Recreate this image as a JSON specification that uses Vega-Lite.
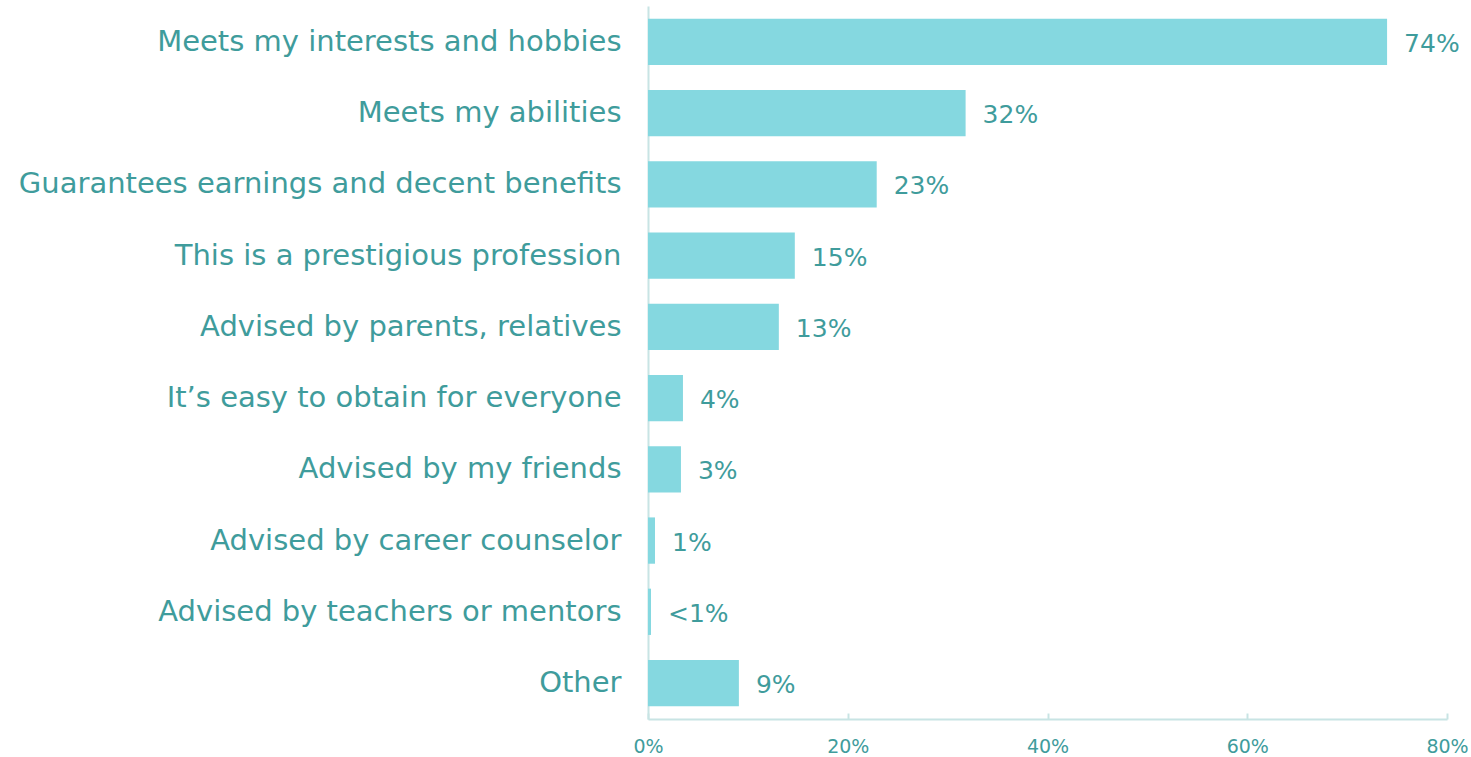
{
  "$schema": "https://vega.github.io/schema/vega-lite/v6.json",
  "autosize": {"type": "none"},
  "padding": {"left": 648, "top": 6, "right": 24, "bottom": 38},
  "width": 799,
  "height": 713,
  "background": "white",
  "config": {"view": {"stroke": null}, "font": "DejaVu Sans"},
  "data": {
    "values": [
      {"reason": "Meets my interests and hobbies", "value": 74, "label": "74%"},
      {"reason": "Meets my abilities", "value": 31.8, "label": "32%"},
      {"reason": "Guarantees earnings and decent benefits", "value": 22.9, "label": "23%"},
      {"reason": "This is a prestigious profession", "value": 14.7, "label": "15%"},
      {"reason": "Advised by parents, relatives", "value": 13.1, "label": "13%"},
      {"reason": "It’s easy to obtain for everyone", "value": 3.5, "label": "4%"},
      {"reason": "Advised by my friends", "value": 3.3, "label": "3%"},
      {"reason": "Advised by career counselor", "value": 0.7, "label": "1%"},
      {"reason": "Advised by teachers or mentors", "value": 0.3, "label": "<1%"},
      {"reason": "Other", "value": 9.1, "label": "9%"}
    ]
  },
  "encoding": {
    "y": {
      "field": "reason", "type": "nominal", "sort": null,
      "scale": {"paddingInner": 0.35, "paddingOuter": 0.18},
      "axis": {
        "title": null, "ticks": false, "domainColor": "#C8E4E4", "domainWidth": 2,
        "labelColor": "#3F9C9C", "labelFontSize": 29, "labelFontWeight": "normal", "labelPadding": 27, "labelLimit": 700,
        "labelFont": "DejaVu Sans"
      }
    },
    "x": {
      "field": "value", "type": "quantitative",
      "scale": {"domain": [0, 80], "nice": false},
      "axis": {
        "title": null, "values": [0, 20, 40, 60, 80], "labelExpr": "datum.value + '%'",
        "grid": false, "domainColor": "#C8E4E4", "domainWidth": 2,
        "tickColor": "#C8E4E4", "tickSize": -6, "tickWidth": 2,
        "labelColor": "#3F9C9C", "labelFontSize": 19, "labelFontWeight": "normal", "labelPadding": 24,
        "labelFlush": false, "labelOverlap": false
      }
    }
  },
  "layer": [
    {"mark": {"type": "bar", "color": "#85D8E0"}},
    {
      "mark": {"type": "text", "align": "left", "dx": 17, "dy": 2, "fontSize": 25, "fontWeight": "normal", "color": "#3F9C9C", "font": "DejaVu Sans"},
      "encoding": {"text": {"field": "label"}}
    }
  ]
}
